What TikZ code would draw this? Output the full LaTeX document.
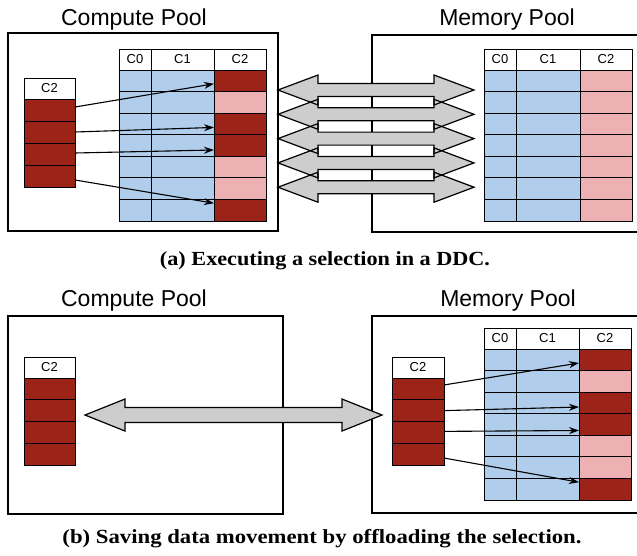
\documentclass[tikz,border=0pt]{standalone}
\usepackage{fontspec}
\setmainfont{Liberation Serif}
\setsansfont{Liberation Sans}
\usetikzlibrary{arrows.meta}
\definecolor{cblue}{RGB}{176,205,235}
\definecolor{cdark}{RGB}{155,35,24}
\definecolor{cpink}{RGB}{237,177,179}
\definecolor{cgray}{RGB}{205,205,205}

\tikzset{
  cell/.style={draw=black, line width=0.8pt, inner sep=0pt, outer sep=0pt, anchor=north west,
    font=\sffamily\fontsize{13}{13}\selectfont},
  pool/.style={draw=black, line width=1.3pt},
  pooltitle/.style={font=\sffamily\fontsize{23}{23}\selectfont, anchor=base, inner sep=0pt},
  capt/.style={font=\bfseries\fontsize{20}{20}\selectfont, anchor=base, inner sep=0pt},
  sel/.style={line width=1.1pt, -{Stealth[length=10pt,width=7pt]}},
  linkfill/.style={fill=cgray},
  linkline/.style={draw=black, line width=1.2pt, line join=miter},
}

% big table: #1 prefix, #2 x, #3 y, #4 C1 width, #5 colours of C2 cells
\newcommand\bigtab[5]{%
  \node[cell, minimum width=32pt, minimum height=21pt] (#1h0) at ({#2},{#3}) {C0};
  \node[cell, minimum width=#4pt, minimum height=21pt] (#1h1) at ({#2+32},{#3}) {C1};
  \node[cell, minimum width=52pt, minimum height=21pt] (#1h2) at ({#2+32+#4},{#3}) {C2};
  \foreach \cc [count=\i] in {#5} {
    \node[cell, fill=cblue, minimum width=32pt, minimum height=21.57pt] (#1a\i) at ({#2},{#3+21+(\i-1)*21.57}) {};
    \node[cell, fill=cblue, minimum width=#4pt, minimum height=21.57pt] (#1b\i) at ({#2+32},{#3+21+(\i-1)*21.57}) {};
    \node[cell, fill=\cc, minimum width=52pt, minimum height=21.57pt] (#1c\i) at ({#2+32+#4},{#3+21+(\i-1)*21.57}) {};
  }
}
% small C2 column: #1 prefix, #2 x, #3 y, #4 row height, #5 width
\newcommand\smalltab[5]{%
  \node[cell, minimum width=#5pt, minimum height=21pt] (#1h) at ({#2},{#3}) {C2};
  \foreach \i in {1,...,4}
    \node[cell, fill=cdark, minimum width=#5pt, minimum height=#4pt] (#1r\i) at ({#2},{#3+21+(\i-1)*#4}) {};
}
% double arrow outline path: #1 centre y, #2 left tip, #3 left base, #4 right base, #5 right tip, #6 head half, #7 shaft half
\newcommand\dblpath[7]{({#2},{#1}) -- ({#3},{#1-#6}) -- ({#3},{#1-#7}) -- ({#4},{#1-#7}) -- ({#4},{#1-#6}) -- ({#5},{#1})
  -- ({#4},{#1+#6}) -- ({#4},{#1+#7}) -- ({#3},{#1+#7}) -- ({#3},{#1+#6}) -- cycle}

\begin{document}
\begin{tikzpicture}[x=1pt, y=-1pt]
\useasboundingbox (0,0) rectangle (637,555);
\clip (0,0) rectangle (637,555);

% ---------- (a) ----------
\node[pooltitle] (tcp) at (134,25) {Compute Pool};
\node[pooltitle] (tmp) at (507,25) {Memory Pool};
\draw[pool] (8,33) rectangle (278,231);
\draw[pool] (372,35) rectangle (660,232);

\bigtab{A}{119}{49}{63}{cdark,cpink,cdark,cdark,cpink,cpink,cdark}
\bigtab{M}{484}{49}{64}{cpink,cpink,cpink,cpink,cpink,cpink,cpink}
\smalltab{S}{24}{78}{22}{51}

\draw[sel] ([yshift=3pt]Sr1.east) -- ([yshift=-3pt]Ac1.west);
\draw[sel] (Sr2.east) -- ([yshift=-3.5pt]Ac3.west);
\draw[sel] ([yshift=1pt]Sr3.east) -- ([yshift=-4.5pt]Ac4.west);
\draw[sel] ([yshift=-4pt]Sr4.east) -- ([yshift=7pt]Ac7.west);

\foreach \yy in {90,114.3,138.6,162.9,187.2}
  \path[linkfill] \dblpath{\yy}{278}{318}{434}{474}{15}{6.5};
\foreach \yy in {90,114.3,138.6,162.9,187.2}
  \path[linkline] \dblpath{\yy}{278}{318}{434}{474}{15}{6.5};

\node[capt] (capa) at (325,265) {\resizebox{330pt}{\height}{(a) Executing a selection in a DDC.}};

% ---------- (b) ----------
\node[pooltitle] (bcp) at (134,306) {Compute Pool};
\node[pooltitle] (bmp) at (508,306) {Memory Pool};
\draw[pool] (8,316) rectangle (283,514);
\draw[pool] (372,316) rectangle (660,513);

\bigtab{B}{484}{328}{63}{cdark,cpink,cdark,cdark,cpink,cpink,cdark}
\smalltab{P}{24}{357}{21.75}{51}
\smalltab{Q}{392}{357}{21.75}{52}

\draw[sel] ([yshift=3.9pt]Qr1.east) -- ([yshift=-3.2pt]Bc1.west);
\draw[sel] (Qr2.east) -- ([yshift=-4.1pt]Bc3.west);
\draw[sel] ([yshift=1pt]Qr3.east) -- ([yshift=-6pt]Bc4.west);
\draw[sel] ([yshift=-3.9pt]Qr4.east) -- ([yshift=7pt]Bc7.west);

\path[linkfill] \dblpath{415}{85}{125}{342}{382}{16}{7.5};
\path[linkline] \dblpath{415}{85}{125}{342}{382}{16}{7.5};

\node[capt] (capb) at (322,543) {\resizebox{519pt}{\height}{(b) Saving data movement by offloading the selection.}};
\end{tikzpicture}
\end{document}
